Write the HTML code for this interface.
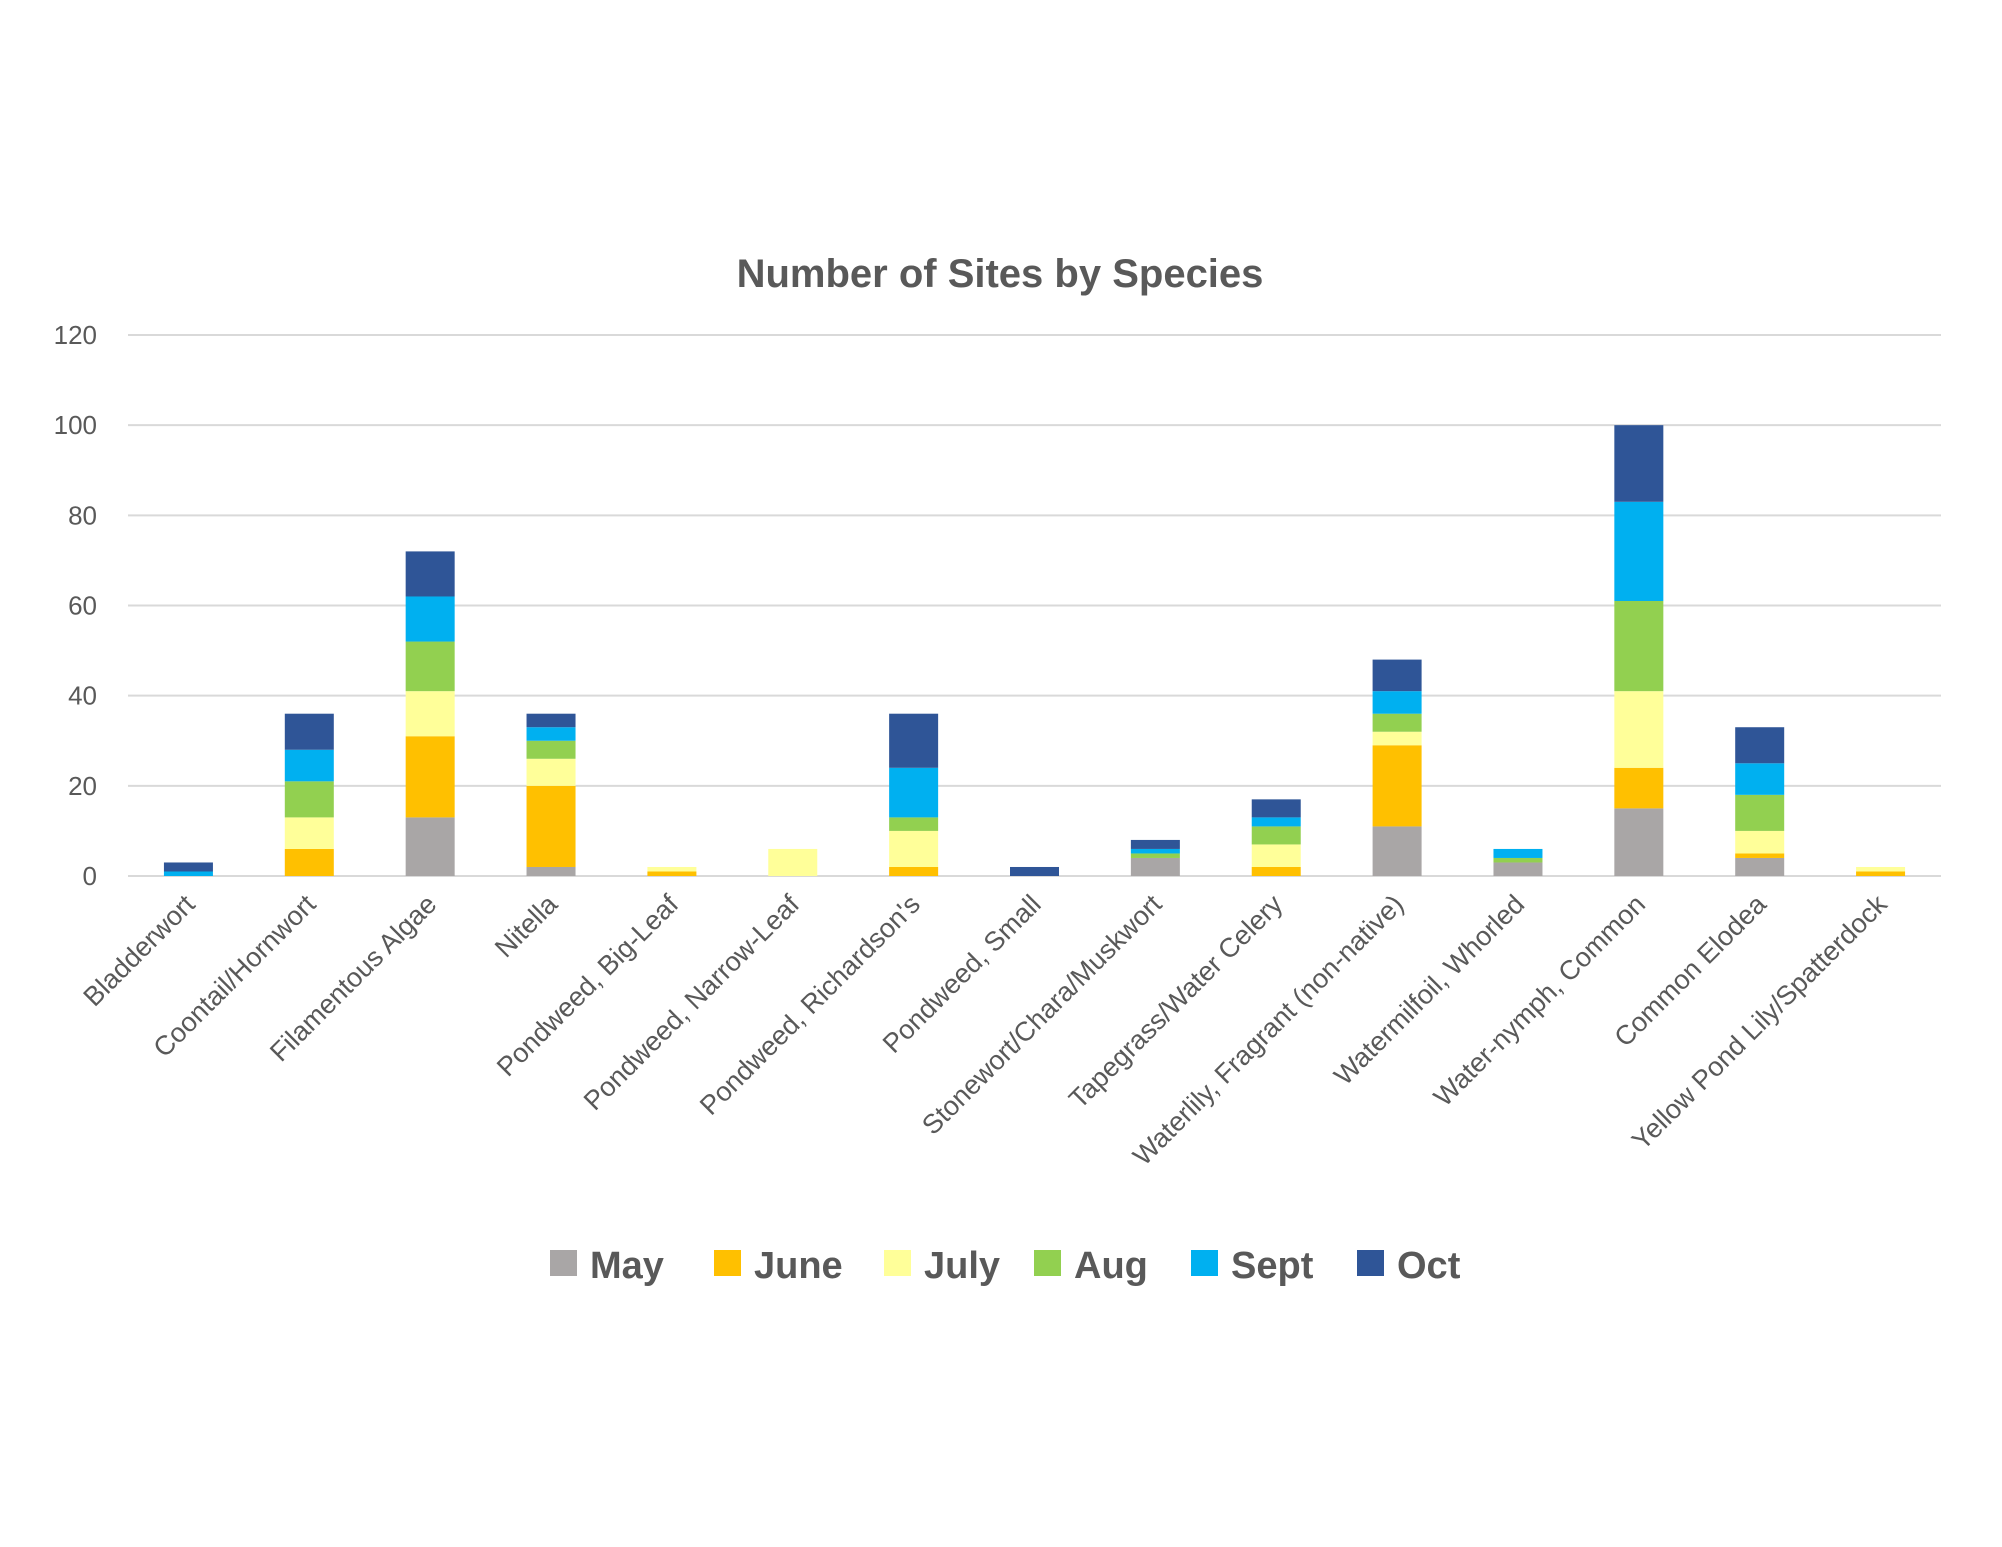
<!DOCTYPE html>
<html><head><meta charset="utf-8"><style>
html,body{margin:0;padding:0;background:#fff;}
svg{display:block;font-family:"Liberation Sans",sans-serif;}
</style></head><body>
<svg id="chart" width="2002" height="1547" viewBox="0 0 2002 1547">
<text x="1000" y="287" text-anchor="middle" font-size="40" font-weight="bold" fill="#595959">Number of Sites by Species</text>
<g id="grid"></g>
<g id="yticks"></g>
<g id="bars"></g>
<g id="xlabels"></g>
<g id="legend"></g>
</svg>
<script>
const categories = ["Bladderwort","Coontail/Hornwort","Filamentous Algae","Nitella","Pondweed, Big-Leaf","Pondweed, Narrow-Leaf","Pondweed, Richardson's","Pondweed, Small","Stonewort/Chara/Muskwort","Tapegrass/Water Celery","Waterlily, Fragrant (non-native)","Watermilfoil, Whorled","Water-nymph, Common","Common Elodea","Yellow Pond Lily/Spatterdock"];
const seriesNames = ["May","June","July","Aug","Sept","Oct"];
const may  = [0,0,13,2,0,0,0,0,4,0,11,3,15,4,0];
const june = [0,6,18,18,1,0,2,0,0,2,18,0,9,1,1];
const july = [0,7,10,6,1,6,8,0,0,5,3,0,17,5,1];
const aug  = [0,8,11,4,0,0,3,0,1,4,4,1,20,8,0];
const sept = [1,7,10,3,0,0,11,0,1,2,5,2,22,7,0];
const oct  = [2,8,10,3,0,0,12,2,2,4,7,0,17,8,0];
const yTicks = [0,20,40,60,80,100,120];
const colors = ["#a9a6a6","#ffc000","#ffff99","#92d050","#00b0f0","#2f5597"];

const NS="http://www.w3.org/2000/svg";
const left=128,right=1941,y0=876,y120=335,yMax=120;
const band=(right-left)/categories.length, barW=49;
function yScale(v){return y0-(v/yMax)*(y0-y120);}
function xCenter(i){return left+band*(i+0.5);}
function mk(tag,attrs,parent){const e=document.createElementNS(NS,tag);for(const k in attrs)e.setAttribute(k,attrs[k]);parent.appendChild(e);return e;}

const grid=document.getElementById('grid'),yt=document.getElementById('yticks');
yTicks.forEach(t=>{
  const l=mk('line',{x1:left,x2:right,y1:yScale(t),y2:yScale(t),stroke:'#d9d9d9','stroke-width':2},grid);
  
  
  const tx=mk('text',{x:97,y:yScale(t)+9,'text-anchor':'end','font-size':26,fill:'#595959'},yt);
  tx.textContent=t;
  
  
});
const series=[may,june,july,aug,sept,oct];
const bars=document.getElementById('bars');
categories.forEach((c,i)=>{
  let cum=0;
  series.forEach((s,k)=>{
    const v=s[i]; if(!v){return;}
    const r=mk('rect',{x:xCenter(i)-barW/2,y:yScale(cum+v),width:barW,height:yScale(cum)-yScale(cum+v),fill:colors[k]},bars);
    
    
    cum+=v;
  });
});
const xl=document.getElementById('xlabels');
categories.forEach((c,i)=>{
  const x=xCenter(i)+8,y=906;
  const t=mk('text',{x:x,y:y,'text-anchor':'end','font-size':27,fill:'#595959',transform:`rotate(-45 ${x} ${y})`},xl);
  t.textContent=c;
  
  
});
const lg=document.getElementById('legend');
const lx=[550,714,884,1034,1191,1357];
seriesNames.forEach((n,k)=>{
  const g=mk('g',{},lg);
  
  
  mk('rect',{x:lx[k],y:1250,width:27,height:26,fill:colors[k]},g);
  const t=mk('text',{x:lx[k]+40,y:1278,'font-size':38,'font-weight':'bold',fill:'#595959'},g);
  t.textContent=n;
});
</script>
</body></html>
